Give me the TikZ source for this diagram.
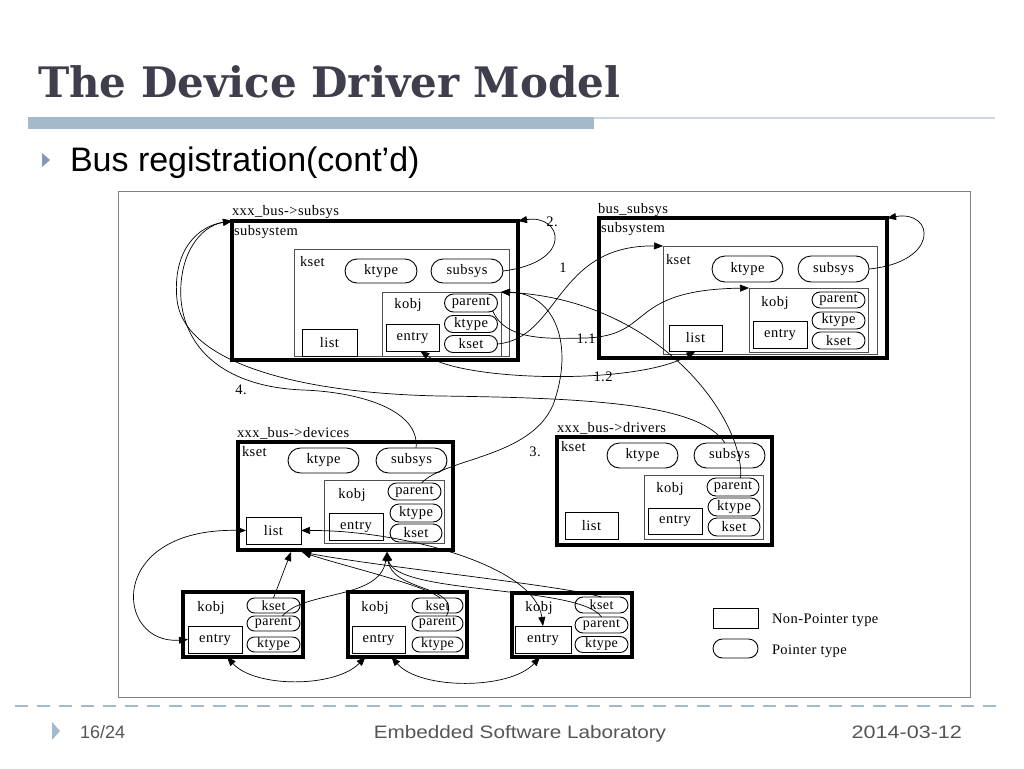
\documentclass[tikz,border=0pt]{standalone}
\usepackage{fontspec}
\usetikzlibrary{arrows.meta,shapes.misc,calc}
\newfontfamily\dfont[LetterSpace=3]{Liberation Serif}
\newfontfamily\tfont{DejaVu Serif}
\newfontfamily\sfont{Liberation Sans}
\definecolor{titlec}{RGB}{62,62,76}
\definecolor{barblue}{RGB}{163,185,204}
\definecolor{barlight}{RGB}{205,215,225}
\definecolor{footc}{RGB}{85,85,85}
\definecolor{tri}{RGB}{127,153,181}
\definecolor{boxgray}{RGB}{80,80,80}
\begin{document}
\begin{tikzpicture}[x=1pt,y=-1pt,
  every node/.style={inner sep=0pt, outer sep=0pt},
  dtext/.style={font=\dfont\fontsize{14.5}{16}\selectfont},
  btext/.style={font=\dfont\fontsize{14}{16}\selectfont},
  bigbox/.style={draw, line width=3.5pt, anchor=north west},
  inbox/.style={draw=boxgray, line width=0.9pt, anchor=north west},
  fieldbox/.style={draw, line width=0.9pt, dtext},
  pill/.style={draw, rounded rectangle, line width=0.9pt, dtext},
  conn/.style={line width=0.7pt, -{Triangle[length=9pt,width=7pt]}},
  dconn/.style={line width=0.7pt, {Triangle[length=9pt,width=7pt]}-{Triangle[length=9pt,width=7pt]}},
]
\useasboundingbox (0,0) rectangle (1024,768);
\fill[white] (0,0) rectangle (1024,768);

% slide header
\node[anchor=base west, font=\tfont\bfseries\fontsize{42}{46}\selectfont, text=titlec] (title) at (38,97) {The Device Driver Model};
\fill[barblue] (28,117) rectangle (594,129);
\draw[barlight, line width=1.2pt] (594,118) -- (995,118);
\fill[tri] (42,153) -- (50,160) -- (42,167) -- cycle;
\node[anchor=base west, font=\sfont\fontsize{34}{38}\selectfont] (subtitle) at (70,171) {Bus registration(cont’d)};

% frame
\draw[gray, line width=0.9pt] (118,191) rectangle (970,697);

% footer
\draw[barblue, line width=2pt, dash pattern=on 13pt off 9pt] (15,706) -- (1005,706);
\fill[barblue] (52,722) -- (60,731) -- (52,740) -- cycle;
\node[anchor=base west, font=\sfont\fontsize{18}{20}\selectfont, text=footc] (pg) at (80,738) {16/24};
\node[anchor=base, font=\sfont\fontsize{18}{20}\selectfont, text=footc] (lab) at (520,738) {\scalebox{1.15}[1]{Embedded Software Laboratory}};
\node[anchor=base east, font=\sfont\fontsize{18}{20}\selectfont, text=footc] (date) at (962,738) {\scalebox{1.2}[1]{2014-03-12}};

% ---- top-left: xxx_bus->subsys
\node[bigbox, minimum width=286pt, minimum height=139pt] (TLbox) at (232,221) {};
\node[dtext, anchor=base west] (TLlab) at (232,215) {xxx\_bus->subsys};
\node[dtext, anchor=base west] (TLsub) at (234,235) {subsystem};
\node[inbox, minimum width=215pt, minimum height=107pt] (TLkset) at (294,249) {};
\node[dtext, anchor=base west] (TLksetl) at (300,266) {kset};
\node[pill, minimum width=72pt, minimum height=24pt] (TLktype) at (381,271) {ktype};
\node[pill, minimum width=72pt, minimum height=24pt] (TLsubsys) at (467,271) {subsys};
\node[inbox, minimum width=119pt, minimum height=64pt] (TLkobj) at (382,292) {};
\node[dtext] (TLkobjl) at (408,305) {kobj};
\node[pill, minimum width=53pt, minimum height=18pt] (TLparent) at (471,303) {parent};
\node[pill, minimum width=53pt, minimum height=17pt] (TLktype2) at (471,324) {ktype};
\node[pill, minimum width=53pt, minimum height=17pt] (TLkset2) at (471,344) {kset};
\node[fieldbox, minimum width=53pt, minimum height=27pt] (TLentry) at (412.5,337.5) {entry};
\node[fieldbox, minimum width=55pt, minimum height=27pt] (TLlist) at (329.5,342.5) {list};

% ---- top-right: bus_subsys
\node[bigbox, minimum width=288pt, minimum height=140pt] (TRbox) at (599,218) {};
\node[dtext, anchor=base west] (TRlab) at (598,213) {bus\_subsys};
\node[dtext, anchor=base west] (TRsub) at (601,232) {subsystem};
\node[inbox, minimum width=214pt, minimum height=108pt] (TRkset) at (663,246) {};
\node[dtext, anchor=base west] (TRksetl) at (666,264) {kset};
\node[pill, minimum width=71pt, minimum height=26pt] (TRktype) at (747.5,269) {ktype};
\node[pill, minimum width=71pt, minimum height=26pt] (TRsubsys) at (833.5,269) {subsys};
\node[inbox, minimum width=119pt, minimum height=64pt] (TRkobj) at (749,288) {};
\node[dtext] (TRkobjl) at (775,303) {kobj};
\node[pill, minimum width=53pt, minimum height=16pt] (TRparent) at (838.5,300) {parent};
\node[pill, minimum width=53pt, minimum height=17pt] (TRktype2) at (838.5,320.5) {ktype};
\node[pill, minimum width=53pt, minimum height=17pt] (TRkset2) at (838.5,340.5) {kset};
\node[fieldbox, minimum width=54pt, minimum height=27pt] (TRentry) at (780,334.5) {entry};
\node[fieldbox, minimum width=53pt, minimum height=26pt] (TRlist) at (695.5,338) {list};

% ---- devices
\node[bigbox, minimum width=215pt, minimum height=108pt] (DVbox) at (238,442) {};
\node[dtext, anchor=base west] (DVlab) at (237,437) {xxx\_bus->devices};
\node[dtext, anchor=base west] (DVksetl) at (242,456) {kset};
\node[pill, minimum width=71pt, minimum height=25pt] (DVktype) at (323.5,460.5) {ktype};
\node[pill, minimum width=71pt, minimum height=25pt] (DVsubsys) at (411.5,460.5) {subsys};
\node[inbox, minimum width=120pt, minimum height=63pt] (DVkobj) at (324,480) {};
\node[dtext] (DVkobjl) at (352,495) {kobj};
\node[pill, minimum width=53pt, minimum height=17pt] (DVparent) at (414.5,491.5) {parent};
\node[pill, minimum width=52pt, minimum height=18pt] (DVktype2) at (416,513) {ktype};
\node[pill, minimum width=52pt, minimum height=18pt] (DVkset2) at (416,533) {kset};
\node[fieldbox, minimum width=54pt, minimum height=27pt] (DVentry) at (356,526.5) {entry};
\node[fieldbox, minimum width=55pt, minimum height=27pt] (DVlist) at (273.5,530.5) {list};

% ---- drivers
\node[bigbox, minimum width=215pt, minimum height=108pt] (DRbox) at (557,437) {};
\node[dtext, anchor=base west] (DRlab) at (557,432) {xxx\_bus->drivers};
\node[dtext, anchor=base west] (DRksetl) at (561,451) {kset};
\node[pill, minimum width=71pt, minimum height=25pt] (DRktype) at (642.5,455.5) {ktype};
\node[pill, minimum width=71pt, minimum height=25pt] (DRsubsys) at (729.5,455.5) {subsys};
\node[inbox, minimum width=119pt, minimum height=64pt] (DRkobj) at (644,475) {};
\node[dtext] (DRkobjl) at (670,489) {kobj};
\node[pill, minimum width=52pt, minimum height=18pt] (DRparent) at (733,487) {parent};
\node[pill, minimum width=52pt, minimum height=18pt] (DRktype2) at (734,507) {ktype};
\node[pill, minimum width=52pt, minimum height=18pt] (DRkset2) at (734,527) {kset};
\node[fieldbox, minimum width=54pt, minimum height=26pt] (DRentry) at (675,521) {entry};
\node[fieldbox, minimum width=53pt, minimum height=27pt] (DRlist) at (591.5,525.5) {list};

% ---- bottom kobjs
\node[bigbox, minimum width=120pt, minimum height=65pt] (B1box) at (183,592) {};
\node[dtext] (B1kobjl) at (211,608) {kobj};
\node[pill, btext, minimum width=53pt, minimum height=15pt] (B1kset) at (273.5,605.5) {kset};
\node[pill, btext, minimum width=53pt, minimum height=15pt] (B1parent) at (273.5,623.5) {parent};
\node[pill, btext, minimum width=53pt, minimum height=15pt] (B1ktype) at (273.5,644.5) {ktype};
\node[fieldbox, minimum width=54pt, minimum height=27pt] (B1entry) at (215,639.5) {entry};

\node[bigbox, minimum width=119pt, minimum height=65pt] (B2box) at (348,592) {};
\node[dtext] (B2kobjl) at (375,608) {kobj};
\node[pill, btext, minimum width=51pt, minimum height=15pt] (B2kset) at (437.5,605.5) {kset};
\node[pill, btext, minimum width=51pt, minimum height=15pt] (B2parent) at (437.5,623.5) {parent};
\node[pill, btext, minimum width=51pt, minimum height=15pt] (B2ktype) at (437.5,644.5) {ktype};
\node[fieldbox, minimum width=53pt, minimum height=27pt] (B2entry) at (378.5,639.5) {entry};

\node[bigbox, minimum width=120pt, minimum height=64pt] (B3box) at (512,593) {};
\node[dtext] (B3kobjl) at (539,608) {kobj};
\node[pill, btext, minimum width=53pt, minimum height=16pt] (B3kset) at (601.5,605) {kset};
\node[pill, btext, minimum width=53pt, minimum height=16pt] (B3parent) at (601.5,625) {parent};
\node[pill, btext, minimum width=53pt, minimum height=16pt] (B3ktype) at (601.5,644.5) {ktype};
\node[fieldbox, minimum width=56pt, minimum height=27pt] (B3entry) at (543,639.5) {entry};

% ---- legend
\node[fieldbox, minimum width=45pt, minimum height=20pt] (LGrect) at (735.5,618) {};
\node[dtext, anchor=west] (LGrectl) at (772,620) {Non-Pointer type};
\node[pill, minimum width=45pt, minimum height=19pt] (LGpill) at (735.5,648.5) {};
\node[dtext, anchor=west] (LGpilll) at (772,651) {Pointer type};

% ---- labels
\node[dtext] (l2) at (552,222) {2.};
\node[dtext] (l1) at (563,268) {1};
\node[dtext] (l11) at (586,339) {1.1};
\node[dtext] (l12) at (603,377) {1.2};
\node[dtext] (l3) at (535,452) {3.};
\node[dtext] (l4) at (241,390) {4.};

% ---- helper coordinates
\coordinate (m11) at (585,338);
\coordinate (m4a) at (440,396);
\coordinate (m4b) at (177,300);
\coordinate (m4c) at (303,390);
\coordinate (m4d) at (181,300);
\coordinate (m3) at (553,405);
\coordinate (dvA) at ($(DVbox.south west)+(53,2)$);
\coordinate (dvB) at ($(DVbox.south west)+(64,2)$);
\coordinate (dvC) at ($(DVbox.south west)+(149,2)$);

% ---- connectors
\draw[conn] (TLsubsys.east) .. controls (575,262) and (562,214) .. (TLbox.north east);
\draw[conn] (TRsubsys.east) .. controls (940,262) and (935,210) .. (TRbox.north east);
\draw[conn] (TLkset2.east) .. controls (560,338) and (555,245) .. (TRkset.north west);
\draw[conn] (TLparent.-20) .. controls (505,340) and (545,339) .. (m11) .. controls (655,336) and (625,290) .. (TRkobj.north west);
\draw[dconn] (TLentry.-60) .. controls (465,382) and (640,385) .. (TRlist.south);
\draw[conn] (DRsubsys.110) .. controls (700,405) and (600,398) .. (m4a) .. controls (290,393) and (184,360) .. (m4b) .. controls (172,250) and (198,226) .. (TLbox.north west);
\draw[conn] (DVsubsys.70) .. controls (420,410) and (360,392) .. (m4c) .. controls (228,387) and (186,352) .. (m4d) .. controls (178,255) and (200,226) .. (TLbox.north west);
\draw[conn] (DVparent.50) .. controls (445,458) and (530,458) .. (m3) .. controls (575,345) and (555,293) .. (TLkobj.north east);
\draw[conn] (DRparent.50) .. controls (745,420) and (660,300) .. (TLkobj.north east);

\draw[conn] (B1kset.north) -- (dvA);
\draw[conn] (B2kset.70) .. controls (425,585) and (340,565) .. (dvB);
\draw[conn] (B3kset.north) .. controls (560,585) and (380,567) .. (dvB);
\draw[conn] (B1parent.40) .. controls (305,590) and (380,600) .. (dvC);
\draw[conn] (B2parent.40) .. controls (462,585) and (392,592) .. (dvC);
\draw[conn] (B3parent.north) .. controls (580,585) and (395,595) .. (dvC);
\draw[dconn] (DVlist.east) .. controls (400,530) and (535,565) .. (B3entry.north);
\draw[dconn] (DVlist.west) .. controls (105,528) and (115,645) .. (B1entry.west);
\draw[dconn] ($(B1entry.south)+(12,4)$) .. controls (255,688) and (335,688) .. ($(B2entry.south)+(-13,4)$);
\draw[dconn] ($(B2entry.south)+(13,4)$) .. controls (420,690) and (510,690) .. ($(B3entry.south)+(-3,4)$);
\end{tikzpicture}
\end{document}
